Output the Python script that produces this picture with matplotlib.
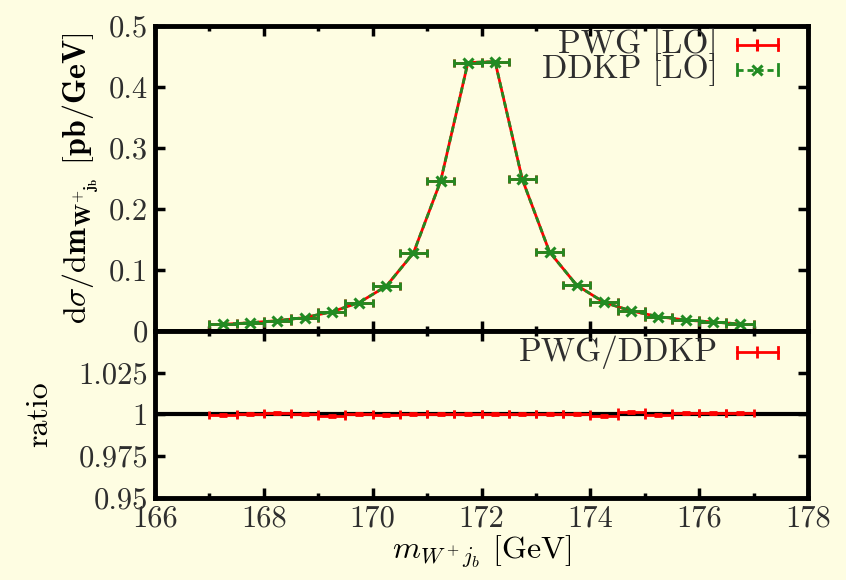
"""
PWG vs DDKP at LO: m(W+ j_b) distribution with the ratio panel underneath.
"""
import matplotlib
matplotlib.use("Agg")
import matplotlib.pyplot as plt

BG = "#fefde2"
TXT = "#2e2e2e"
RED = "#ff0000"
GREEN = "#228b22"

# bin centres (GeV), bin half width 0.25 GeV
M_CENTRES = [167.25, 167.75, 168.25, 168.75, 169.25, 169.75, 170.25, 170.75,
             171.25, 171.75, 172.25, 172.75, 173.25, 173.75, 174.25, 174.75,
             175.25, 175.75, 176.25, 176.75]
HALF_BIN = [0.25] * 20

# dsigma/dm [pb/GeV]
XSEC_PWG = [0.0110, 0.0135, 0.0170, 0.0220, 0.0315, 0.0465, 0.0735, 0.1280,
            0.2460, 0.4400, 0.4415, 0.2485, 0.1295, 0.0750, 0.0470, 0.0330,
            0.0235, 0.0180, 0.0148, 0.0115]
XSEC_DDKP = [0.0110, 0.0135, 0.0170, 0.0220, 0.0316, 0.0465, 0.0735, 0.1279,
             0.2459, 0.4400, 0.4415, 0.2485, 0.1295, 0.0750, 0.0470, 0.0330,
             0.0235, 0.0180, 0.0148, 0.0115]
XSEC_ERR = [0.0002, 0.0002, 0.0002, 0.0003, 0.0003, 0.0004, 0.0005, 0.0007,
            0.0010, 0.0014, 0.0014, 0.0010, 0.0007, 0.0005, 0.0004, 0.0003,
            0.0003, 0.0002, 0.0002, 0.0002]

# PWG / DDKP
RATIO = [0.9996, 1.0003, 1.0010, 1.0005, 0.9990, 1.0003, 0.9997, 1.0005,
         1.0003, 1.0000, 1.0000, 1.0000, 1.0003, 1.0005, 0.9993, 1.0012,
         0.9997, 1.0008, 1.0009, 1.0011]
RATIO_ERR = [0.0006, 0.0006, 0.0006, 0.0006, 0.0006, 0.0006, 0.0006, 0.0006,
             0.0006, 0.0006, 0.0006, 0.0006, 0.0006, 0.0006, 0.0006, 0.0006,
             0.0006, 0.0006, 0.0006, 0.0006]

TOP_TICKS = [0, 0.1, 0.2, 0.3, 0.4, 0.5]
TOP_LABELS = ["0", "0.1", "0.2", "0.3", "0.4", "0.5"]
RAT_TICKS = [0.95, 0.975, 1.0, 1.025]
RAT_LABELS = ["0.95", "0.975", "1", "1.025"]
X_TICKS = [166, 168, 170, 172, 174, 176, 178]
X_MINOR = [167, 169, 171, 173, 175, 177]

plt.rcParams.update({
    "font.family": ["cmr10", "DejaVu Serif"],
    "mathtext.fontset": "cm",
    "axes.unicode_minus": False,
    "font.size": 22,
    "axes.labelsize": 23,
    "text.color": TXT,
    "xtick.color": "black", "ytick.color": "black",
    "xtick.labelcolor": TXT, "ytick.labelcolor": TXT,
})
LEG_FS = 24

fig = plt.figure(figsize=(8.46, 5.8), dpi=100, facecolor=BG)
ax1 = fig.add_axes([0.1832, 0.4293, 0.7719, 0.5259])
ax2 = fig.add_axes([0.1832, 0.1414, 0.7719, 0.2879], sharex=ax1)

for ax in (ax1, ax2):
    ax.set_facecolor(BG)
    for s in ax.spines.values():
        s.set_linewidth(3.5)
    ax.tick_params(which="both", direction="in", top=True, right=True, width=2.5)
    ax.tick_params(which="major", length=7, pad=5)
    ax.tick_params(which="minor", length=3.5)
    ax.set_xticks(X_TICKS)
    ax.set_xticks(X_MINOR, minor=True)

ebar = dict(fmt="none", capsize=2.8, elinewidth=2.0, capthick=2.0)

# main panel
ax1.plot(M_CENTRES, XSEC_PWG, color=RED, lw=2.0, zorder=3)
ax1.errorbar(M_CENTRES, XSEC_PWG, xerr=HALF_BIN, yerr=XSEC_ERR, ecolor=RED,
             zorder=3, **ebar)
ax1.plot(M_CENTRES, XSEC_DDKP, color=GREEN, lw=2.0, ls=(0, (2.2, 1.4)),
         marker="x", ms=6.5, mew=2.2, zorder=4)
ax1.errorbar(M_CENTRES, XSEC_DDKP, xerr=HALF_BIN, yerr=XSEC_ERR, ecolor=GREEN,
             zorder=4, **ebar)
ax1.set_xlim(166, 178)
ax1.set_ylim(0, 0.5)
ax1.set_yticks(TOP_TICKS, TOP_LABELS)
ax1.tick_params(labelbottom=False)
ax1.set_ylabel(r"d$\sigma$/d$\mathbf{m}_{\mathbf{W}^{+}\!_{\mathbf{j}_{\mathbf{b}}}}$"
               r" [$\mathbf{pb/GeV}$]", labelpad=6)

# legend, gnuplot style: text right aligned, sample to the right
tx, x0, x1 = 0.862, 0.891, 0.954
for y, lab, col, ls, mk in [(0.938, "PWG [LO]", RED, "-", None),
                            (0.856, "DDKP [LO]", GREEN, (0, (2.2, 1.4)), "x")]:
    ax1.text(tx, y, lab, transform=ax1.transAxes, ha="right", va="center",
             fontsize=LEG_FS)
    ax1.plot([x0, x1], [y, y], transform=ax1.transAxes, color=col, lw=2.0,
             ls=ls, clip_on=False)
    for xc in (x0, x1):
        ax1.plot([xc, xc], [y - 0.018, y + 0.018], transform=ax1.transAxes,
                 color=col, lw=2.0, clip_on=False)
    ax1.plot([(x0 + x1) / 2], [y], transform=ax1.transAxes, color=col,
             marker=mk if mk else "|", ms=6.5 if mk else 8, mew=2.2, clip_on=False)

# ratio panel
ax2.axhline(1.0, color="black", lw=3.0, zorder=2)
ax2.errorbar(M_CENTRES, RATIO, xerr=HALF_BIN, yerr=RATIO_ERR, ecolor=RED,
             zorder=3, **ebar)
ax2.set_ylim(0.95, 1.05)
ax2.set_yticks(RAT_TICKS, RAT_LABELS)
ax2.set_ylabel("ratio", labelpad=18)
ax2.set_xlabel(r"$m_{W^+j_b}$ [GeV]", labelpad=1)

y = 0.874
ax2.text(tx, y, "PWG/DDKP", transform=ax2.transAxes, ha="right", va="center",
         fontsize=LEG_FS)
ax2.plot([x0, x1], [y, y], transform=ax2.transAxes, color=RED, lw=2.0, clip_on=False)
for xc in (x0, x1):
    ax2.plot([xc, xc], [y - 0.033, y + 0.033], transform=ax2.transAxes,
             color=RED, lw=2.0, clip_on=False)
ax2.plot([(x0 + x1) / 2], [y], transform=ax2.transAxes, color=RED, marker="|",
         ms=8, mew=2.0, clip_on=False)

fig.savefig("out.png", dpi=100, facecolor=BG)
